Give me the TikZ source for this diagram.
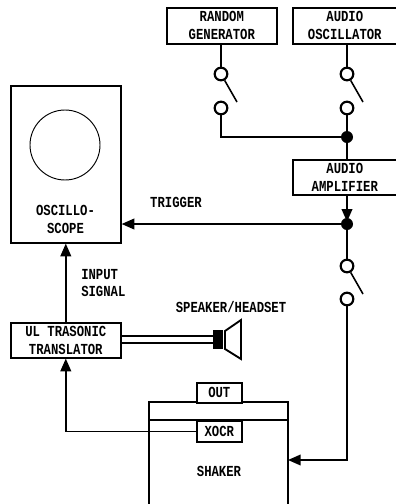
\documentclass[tikz,border=0pt]{standalone}
\usepackage{fontspec}
\setmainfont{Liberation Mono}[BoldFont={Liberation Mono Bold},BoldFeatures={FakeStretch=0.8}]
\usetikzlibrary{arrows.meta}
\tikzset{
 line/.style={draw=black,line width=1.2pt},
 box/.style={line,fill=white,inner sep=0pt,anchor=north west,align=center,font=\bfseries\fontsize{11.5}{13.3}\selectfont},
 lbl/.style={inner sep=0pt,align=center,font=\bfseries\fontsize{11.5}{13.3}\selectfont},
 term/.style={circle,line,line width=1.6pt,fill=white,minimum size=9.5pt,inner sep=0pt},
 jn/.style={circle,fill=black,minimum size=9pt,inner sep=0pt},
 arr/.style={line,-{Triangle[length=9.5pt,width=8pt]}},
 lever/.style={line}
}
\begin{document}
\begin{tikzpicture}[x=0.75pt,y=-0.75pt]
\useasboundingbox (0,0) rectangle (396,504);
% shaker first
\path[line,fill=white] (149,504) -- (149,402) -- (288,402) -- (288,504);
\draw[line] (149,420) -- (288,420);
\node[box,minimum width=82.5pt,minimum height=27pt] (rand) at (166,7) {RANDOM\\GENERATOR};
\node[box,minimum width=78pt,minimum height=27pt] (osc) at (292,7) {AUDIO\\OSCILLATOR};
\node[box,minimum width=78pt,minimum height=26.25pt] (amp) at (292,159) {AUDIO\\AMPLIFIER};
\node[box,minimum width=82.5pt,minimum height=117.75pt] (scope) at (10,85) {};
\node[circle,draw=black,line width=0.7pt,minimum size=52.5pt,inner sep=0pt] (crt) at (65,145) {};
\node[lbl] (scopet) at (65.5,219.5) {OSCILLO-\\SCOPE};
\node[box,minimum width=82.5pt,minimum height=26.25pt] (trans) at (10,322) {UL TRASONIC\\TRANSLATOR};
\node[box,minimum width=33.75pt,minimum height=15pt] (out) at (196,382) {OUT};
\node[box,minimum width=33.75pt,minimum height=15.75pt] (xocr) at (196,420) {XOCR};
\node[lbl] (shaker) at (219,471) {SHAKER};
\node[lbl] (trig) at (176,202) {TRIGGER};
\node[lbl,align=left,anchor=west] (input) at (81,283) {INPUT\\SIGNAL};
\node[lbl] (spk) at (231,307) {SPEAKER/HEADSET};
% switch terminals
\node[term] (s1a) at (221,74) {};
\node[term] (s1b) at (221,108) {};
\node[term] (s2a) at (347,74) {};
\node[term] (s2b) at (347,108) {};
\node[term] (s3a) at (347,266) {};
\node[term] (s3b) at (347,299) {};
\node[jn] (j1) at (347,137) {};
\node[jn] (j2) at (347,224) {};
\coordinate (l1) at (237,102);
\coordinate (l2) at (363,102);
\coordinate (l3) at (363,294);
\draw[line] (rand.south -| s1a) -- (s1a);
\draw[line] (osc.south -| s2a) -- (s2a);
\draw[lever] (s1a) -- (l1);
\draw[lever] (s2a) -- (l2);
\draw[lever] (s3a) -- (l3);
\draw[line] (s1b) |- (j1);
\draw[line] (s2b) -- (j1);
\draw[line] (j1) -- (amp.north -| j1);
\draw[arr,shorten >=-3pt] (amp.south -| j2) -- (j2.north);
\draw[line] (j2) -- (s3a);
\draw[arr] (j2) -- (j2 -| scope.east);
\draw[arr] (trans.north) -- (scope.south);
\draw[arr] (s3b) |- (288,460);
\draw[arr] (xocr.west) -| (trans.south);
% speaker
\node[fill=black,minimum width=7.5pt,minimum height=14.25pt,inner sep=0pt] (mag) at (218,339.5) {};
\draw[line] (trans.east |- 0,336) -- (mag.west |- 0,336);
\draw[line] (trans.east |- 0,343) -- (mag.west |- 0,343);
\draw[line,line width=1.4pt,line join=miter] (225,331) -- (241,320) -- (241,359) -- (225,349) -- cycle;
\end{tikzpicture}
\end{document}
